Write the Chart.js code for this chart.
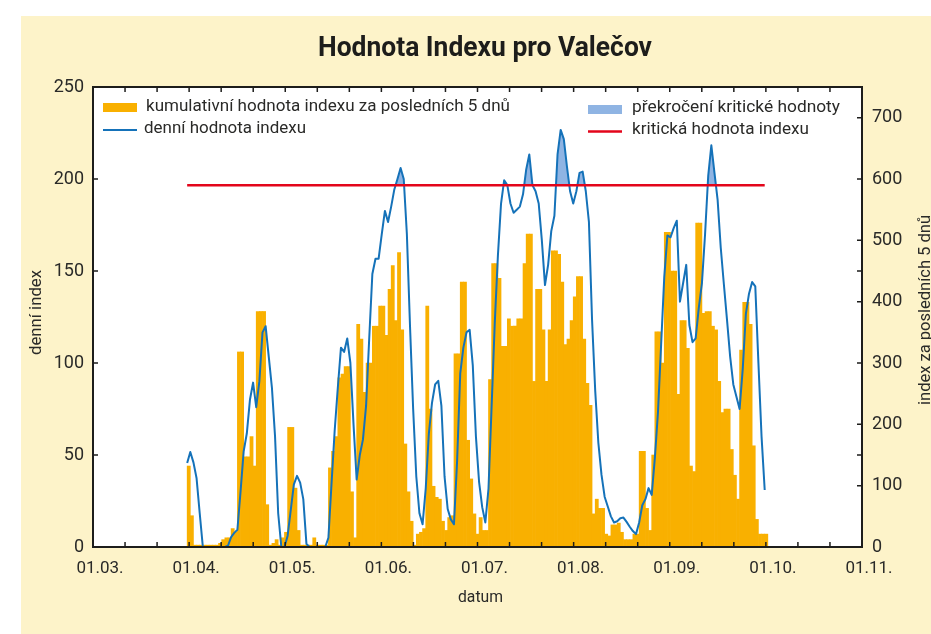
<!DOCTYPE html>
<html>
<head>
<meta charset="utf-8">
<script src="https://cdn.jsdelivr.net/npm/chart.js@4.4.1/dist/chart.umd.min.js"></script>
<style>
    html, body { margin: 0; padding: 0; background: #fff; }
    #panel { position: absolute; left: 21px; top: 16px; width: 910px; height: 618px; background: #fdf3c9; }
    #wrap { position: absolute; left: 0; top: 0; width: 931px; height: 634px; }
</style>
</head>
<body>
<div id="panel"></div>
<div id="wrap"><canvas id="chart" width="931" height="634"></canvas></div>
<script>
// --- DATA ---
const FIRST_DAY = 30;      // first measured day (31.03.), counted from 01.03.
const AXIS_DAYS = 245;     // 01.03. .. 01.11.
const monthLabels = ['01.03.', '01.04.', '01.05.', '01.06.', '01.07.', '01.08.', '01.09.', '01.10.', '01.11.'];
const leftTicks = [0, 50, 100, 150, 200, 250];
const rightTicks = [0, 100, 200, 300, 400, 500, 600, 700];
const criticalValue = 590;

// bars (left axis)
const dailyIndex = [
    44, 17, 1, 1, 1, 1, 1, 1, 1, 1,
    2, 4, 5, 5, 10, 8, 106, 106, 49, 49,
    60, 44, 128, 128, 128, 23, 1, 2, 4, 1,
    5, 8, 65, 65, 32, 9, 1, 1, 1, 1,
    5, 1, 1, 1, 1, 43, 52, 60, 92, 94,
    98, 98, 30, 5, 121, 113, 84, 100, 100, 120,
    120, 131, 131, 115, 140, 153, 123, 160, 118, 56,
    30, 14, 1, 7, 8, 10, 131, 75, 33, 27,
    26, 14, 9, 16, 17, 105, 105, 144, 144, 58,
    37, 18, 7, 16, 9, 9, 91, 154, 154, 146,
    109, 109, 124, 120, 120, 124, 124, 154, 170, 170,
    90, 140, 140, 118, 90, 118, 161, 161, 159, 144,
    110, 113, 123, 136, 147, 147, 113, 89, 77, 18,
    26, 21, 21, 7, 6, 12, 12, 13, 8, 4,
    4, 4, 7, 7, 52, 52, 21, 9, 50, 117,
    117, 100, 171, 171, 150, 150, 83, 123, 123, 108,
    44, 41, 176, 176, 127, 128, 128, 120, 118, 90,
    73, 75, 75, 53, 39, 26, 107, 133, 133, 121,
    55, 15, 7, 7, 7
];

// line (right axis)
const index5Days = [
    137, 155, 138, 112, 55, 0, 0, 0, 0, 0,
    0, 0, 0, 2, 16, 23, 28, 90, 156, 185,
    240, 268, 228, 270, 350, 360, 310, 260, 180, 55,
    0, 0, 18, 60, 102, 116, 105, 78, 5, 0,
    0, 0, 0, 0, 0, 15, 104, 190, 260, 325,
    318, 340, 300, 200, 110, 150, 175, 230, 340, 445,
    470, 470, 510, 548, 530, 555, 583, 600, 618, 600,
    510, 360, 225, 115, 55, 37, 95, 185, 235, 265,
    271, 230, 115, 62, 45, 37, 140, 283, 325, 350,
    354, 296, 180, 106, 65, 40, 95, 230, 365, 475,
    560, 598, 590, 560, 545, 550, 555, 575, 615, 640,
    590, 580, 560, 500, 427, 460, 515, 540, 640, 680,
    665, 620, 580, 560, 580, 610, 612, 580, 530, 370,
    255, 170, 118, 82, 66, 50, 40, 42, 47, 48,
    41, 33, 26, 21, 40, 68, 78, 96, 85, 145,
    220, 330, 440, 508, 505, 520, 532, 400, 430, 460,
    362, 334, 340, 390, 430, 510, 605, 655, 610, 566,
    488, 428, 370, 310, 265, 245, 225, 290, 380, 413,
    432, 425, 300, 180, 93
];

const days = dailyIndex.map((_, i) => FIRST_DAY + i);
const xTicks = Array.from({ length: 25 }, (_, k) => k * AXIS_DAYS / 24);

// --- STYLE ---
const TEXT = '#2a2a28';
const FONT = 'Roboto, "Liberation Sans", sans-serif';
const ORANGE = '#f9b000';
const BLUE = '#1572b9';
const BLUE_FILL = '#8fb4e3';
const RED = '#e3051b';

function fitText(ctx, text, x, y, width) {
    const w = ctx.measureText(text).width;
    ctx.save();
    ctx.translate(x, y);
    ctx.scale(width / w, 1);
    ctx.fillText(text, 0, 0);
    ctx.restore();
}

// frame, inward ticks, titles, legend
const decor = {
    id: 'decor',
    beforeDatasetsDraw(chart) {
        const { ctx, chartArea: a } = chart;
        ctx.save();
        ctx.fillStyle = '#fff';
        ctx.fillRect(a.left, a.top, a.right - a.left, a.bottom - a.top);
        ctx.restore();
    },
    afterDraw(chart) {
        const { ctx, chartArea: a, scales } = chart;
        ctx.save();
        ctx.strokeStyle = '#1d1d1b';
        ctx.lineWidth = 1.5;
        ctx.beginPath();
        leftTicks.forEach(v => {
            const y = scales.y.getPixelForValue(v);
            ctx.moveTo(a.left, y); ctx.lineTo(a.left + 5, y);
            ctx.moveTo(a.right, y); ctx.lineTo(a.right - 5, y);
        });
        rightTicks.forEach(v => {
            const y = scales.y1.getPixelForValue(v);
            ctx.moveTo(a.right, y); ctx.lineTo(a.right - 5, y);
        });
        xTicks.forEach(v => {
            const x = scales.x.getPixelForValue(v);
            ctx.moveTo(x, a.bottom); ctx.lineTo(x, a.bottom - 5);
            ctx.moveTo(x, a.top); ctx.lineTo(x, a.top + 5);
        });
        ctx.stroke();
        ctx.lineWidth = 2;
        ctx.strokeRect(a.left, a.top, a.right - a.left, a.bottom - a.top);

        // title
        ctx.fillStyle = '#1d1d1b';
        ctx.textBaseline = 'alphabetic';
        ctx.font = 'bold 27px ' + FONT;
        fitText(ctx, 'Hodnota Indexu pro Valečov', 318, 56, 334);

        // axis titles
        ctx.fillStyle = TEXT;
        ctx.font = '17px ' + FONT;
        ctx.textBaseline = 'middle';
        ctx.textAlign = 'left';
        fitText(ctx, 'datum', 458, 598, 45);
        ctx.font = '16px ' + FONT;
        ctx.save();
        ctx.translate(37, 355);
        ctx.rotate(-Math.PI / 2);
        fitText(ctx, 'denní index', 0, 0, 85);
        ctx.restore();
        ctx.save();
        ctx.translate(926, 405);
        ctx.rotate(-Math.PI / 2);
        fitText(ctx, 'index za posledních 5 dnů', 0, 0, 190);
        ctx.restore();

        // legend
        ctx.font = '17px ' + FONT;
        ctx.fillStyle = ORANGE;
        ctx.fillRect(103, 103, 34, 9);
        ctx.fillStyle = BLUE_FILL;
        ctx.fillRect(588, 105, 34, 9);
        ctx.lineWidth = 2;
        ctx.strokeStyle = BLUE;
        ctx.beginPath(); ctx.moveTo(103, 130); ctx.lineTo(137, 130); ctx.stroke();
        ctx.lineWidth = 2.5;
        ctx.strokeStyle = RED;
        ctx.beginPath(); ctx.moveTo(588, 131.5); ctx.lineTo(622, 131.5); ctx.stroke();
        ctx.fillStyle = TEXT;
        fitText(ctx, 'kumulativní hodnota indexu za posledních 5 dnů', 146, 107, 364);
        fitText(ctx, 'denní hodnota indexu', 144, 129, 162);
        fitText(ctx, 'překročení kritické hodnoty', 632, 108, 208);
        fitText(ctx, 'kritická hodnota indexu', 632, 130, 177);
        ctx.restore();
    }
};

new Chart(document.getElementById('chart'), {
    type: 'bar',
    data: {
        datasets: [
            {
                type: 'line',
                label: 'kritická hodnota indexu',
                data: [{ x: days[0], y: criticalValue }, { x: days[days.length - 1], y: criticalValue }],
                yAxisID: 'y1',
                borderColor: RED,
                borderWidth: 2.5,
                pointRadius: 0,
                order: 0,
            },
            {
                type: 'line',
                label: 'denní hodnota indexu',
                data: days.map((d, i) => ({ x: d, y: index5Days[i] })),
                yAxisID: 'y1',
                borderColor: BLUE,
                borderWidth: 2,
                pointRadius: 0,
                tension: 0,
                borderJoinStyle: 'round',
                fill: { target: { value: criticalValue }, above: BLUE_FILL, below: 'rgba(0,0,0,0)' },
                order: 1,
            },
            {
                type: 'bar',
                label: 'kumulativní hodnota indexu za posledních 5 dnů',
                data: days.map((d, i) => ({ x: d + 0.5, y: dailyIndex[i] })),
                yAxisID: 'y',
                backgroundColor: ORANGE,
                borderWidth: 0,
                barPercentage: 1,
                categoryPercentage: 1,
                grouped: false,
                order: 2,
            },
        ]
    },
    options: {
        responsive: false,
        animation: false,
        layout: { padding: { top: 87, left: 0, right: 0, bottom: 0 } },
        plugins: { legend: { display: false }, tooltip: { enabled: false } },
        scales: {
            x: {
                type: 'linear',
                min: 0,
                max: AXIS_DAYS,
                offset: false,
                afterBuildTicks: s => { s.ticks = xTicks.map(v => ({ value: v })); },
                afterFit: s => { s.height = 87; },
                grid: { display: false, drawTicks: false },
                border: { display: false },
                ticks: {
                    autoSkip: false, maxRotation: 0, padding: 12, labelOffset: 7,
                    color: TEXT, font: { family: FONT, size: 17 },
                    callback: (v, i) => (i % 3 === 0 ? monthLabels[i / 3] : ''),
                },
            },
            y: {
                position: 'left',
                min: 0,
                max: 250,
                afterBuildTicks: s => { s.ticks = leftTicks.map(v => ({ value: v })); },
                afterFit: s => { s.width = 93; },
                grid: { display: false, drawTicks: false },
                border: { display: false },
                ticks: { padding: 9, color: TEXT, font: { family: FONT, size: 18 } },
            },
            y1: {
                position: 'right',
                min: 0,
                max: 750,
                afterBuildTicks: s => { s.ticks = rightTicks.map(v => ({ value: v })); },
                afterFit: s => { s.width = 69; },
                grid: { display: false, drawTicks: false },
                border: { display: false },
                ticks: { padding: 10, color: TEXT, font: { family: FONT, size: 18 } },
            },
        },
    },
    plugins: [decor],
});
</script>
</body>
</html>
